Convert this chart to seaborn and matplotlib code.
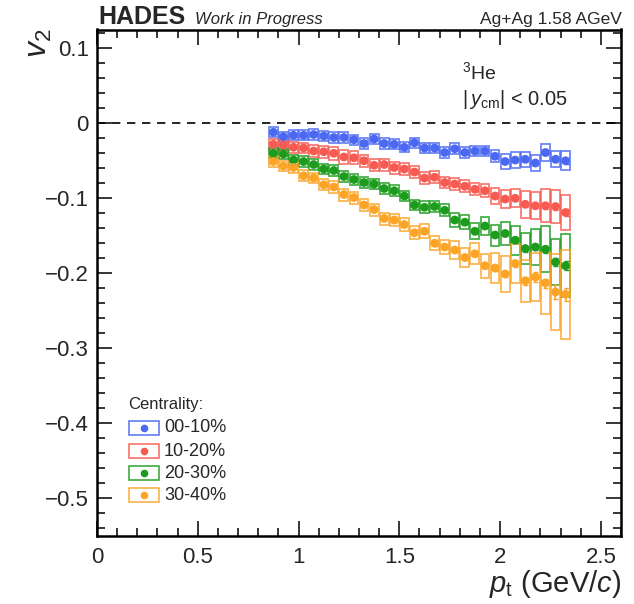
import numpy as np
import pandas as pd
import matplotlib
matplotlib.use("Agg")
import matplotlib.pyplot as plt
import seaborn as sns
from matplotlib.patches import Rectangle
from matplotlib.ticker import MultipleLocator

# ---------------- data ----------------
pt = [0.875, 0.925, 0.975, 1.025, 1.075, 1.125, 1.175, 1.225, 1.275, 1.325,
      1.375, 1.425, 1.475, 1.525, 1.575, 1.625, 1.675, 1.725, 1.775, 1.825,
      1.875, 1.925, 1.975, 2.025, 2.075, 2.125, 2.175, 2.225, 2.275, 2.325]

centralities = ["00-10%", "10-20%", "20-30%", "30-40%"]

v2_00_10 = [-0.012, -0.018, -0.016, -0.016, -0.015, -0.017, -0.019, -0.019, -0.022, -0.027,
            -0.021, -0.027, -0.028, -0.032, -0.026, -0.033, -0.033, -0.039, -0.034, -0.039,
            -0.037, -0.037, -0.044, -0.051, -0.049, -0.048, -0.053, -0.039, -0.048, -0.050]
v2_10_20 = [-0.028, -0.029, -0.032, -0.033, -0.037, -0.038, -0.040, -0.045, -0.046, -0.050,
            -0.056, -0.055, -0.059, -0.061, -0.065, -0.073, -0.072, -0.079, -0.081, -0.084,
            -0.088, -0.090, -0.097, -0.101, -0.100, -0.108, -0.110, -0.110, -0.111, -0.119]
v2_20_30 = [-0.040, -0.041, -0.049, -0.051, -0.055, -0.061, -0.063, -0.071, -0.075, -0.079,
            -0.081, -0.087, -0.090, -0.097, -0.109, -0.112, -0.111, -0.116, -0.129, -0.132,
            -0.144, -0.137, -0.149, -0.147, -0.156, -0.167, -0.165, -0.168, -0.185, -0.190]
v2_30_40 = [-0.051, -0.057, -0.059, -0.070, -0.073, -0.082, -0.085, -0.095, -0.099, -0.109,
            -0.115, -0.127, -0.129, -0.135, -0.146, -0.144, -0.160, -0.165, -0.169, -0.179,
            -0.174, -0.190, -0.193, -0.201, -0.187, -0.210, -0.205, -0.213, -0.225, -0.228]

# systematic uncertainties (half heights of the boxes)
sys_00_10 = [0.0067, 0.0067, 0.0067, 0.0067, 0.0067, 0.0067, 0.0067, 0.0067, 0.0067, 0.0067,
             0.0067, 0.0067, 0.0067, 0.0067, 0.0067, 0.0067, 0.0067, 0.0067, 0.0071, 0.0073,
             0.0073, 0.0073, 0.0082, 0.0105, 0.0107, 0.0100, 0.0113, 0.0113, 0.0105, 0.0127]
sys_10_20 = [0.0073, 0.0073, 0.0073, 0.0073, 0.0080, 0.0080, 0.0087, 0.0093, 0.0087, 0.0080,
             0.0080, 0.0080, 0.0080, 0.0080, 0.0080, 0.0080, 0.0082, 0.0078, 0.0082, 0.0082,
             0.0082, 0.0089, 0.0109, 0.0118, 0.0122, 0.0180, 0.0178, 0.0220, 0.0220, 0.0238]
sys_20_30 = [0.0067, 0.0067, 0.0067, 0.0067, 0.0067, 0.0067, 0.0073, 0.0073, 0.0073, 0.0073,
             0.0073, 0.0073, 0.0073, 0.0073, 0.0073, 0.0080, 0.0078, 0.0080, 0.0089, 0.0093,
             0.0107, 0.0115, 0.0140, 0.0155, 0.0193, 0.0209, 0.0245, 0.0307, 0.0311, 0.0422]
sys_30_40 = [0.0073, 0.0073, 0.0073, 0.0073, 0.0073, 0.0073, 0.0080, 0.0080, 0.0080, 0.0080,
             0.0080, 0.0080, 0.0080, 0.0087, 0.0087, 0.0093, 0.0093, 0.0089, 0.0122, 0.0127,
             0.0138, 0.0160, 0.0195, 0.0238, 0.0258, 0.0278, 0.0322, 0.0409, 0.0507, 0.0595]

# statistical uncertainties
stat_00_10 = [0.001, 0.001, 0.001, 0.001, 0.001, 0.001, 0.001, 0.001, 0.001, 0.001,
              0.001, 0.001, 0.001, 0.001, 0.001, 0.002, 0.002, 0.002, 0.002, 0.002,
              0.002, 0.002, 0.002, 0.002, 0.003, 0.003, 0.003, 0.003, 0.004, 0.004]
stat_10_20 = [0.001, 0.001, 0.001, 0.001, 0.001, 0.001, 0.001, 0.001, 0.001, 0.001,
              0.001, 0.001, 0.001, 0.001, 0.002, 0.002, 0.002, 0.002, 0.002, 0.002,
              0.002, 0.002, 0.002, 0.003, 0.003, 0.003, 0.003, 0.004, 0.004, 0.005]
stat_20_30 = [0.001, 0.001, 0.001, 0.001, 0.001, 0.001, 0.001, 0.001, 0.001, 0.001,
              0.001, 0.001, 0.002, 0.002, 0.002, 0.002, 0.002, 0.002, 0.002, 0.002,
              0.003, 0.003, 0.003, 0.003, 0.004, 0.004, 0.004, 0.005, 0.005, 0.006]
stat_30_40 = [0.001, 0.001, 0.001, 0.001, 0.001, 0.001, 0.001, 0.001, 0.002, 0.002,
              0.002, 0.002, 0.002, 0.002, 0.002, 0.002, 0.003, 0.003, 0.003, 0.003,
              0.003, 0.003, 0.004, 0.004, 0.004, 0.005, 0.007, 0.006, 0.009, 0.009]

colors = ["#4a68f2", "#f65a50", "#1c9b1c", "#fca426"]

v2_all = [v2_00_10, v2_10_20, v2_20_30, v2_30_40]
sys_all = [sys_00_10, sys_10_20, sys_20_30, sys_30_40]
stat_all = [stat_00_10, stat_10_20, stat_20_30, stat_30_40]

frames = []
for c, v, s, e in zip(centralities, v2_all, sys_all, stat_all):
    frames.append(pd.DataFrame({"pt": pt, "v2": v, "sys": s, "stat": e, "centrality": c}))
df = pd.concat(frames, ignore_index=True)

# ---------------- style ----------------
sns.set_style("ticks")
plt.rcParams["font.family"] = ["Liberation Sans", "DejaVu Sans"]
plt.rcParams["mathtext.fontset"] = "custom"
plt.rcParams["mathtext.rm"] = "Liberation Sans"
plt.rcParams["mathtext.it"] = "Liberation Sans:italic"
plt.rcParams["mathtext.bf"] = "Liberation Sans:bold"

W, H = 634, 604
fig = plt.figure(figsize=(W / 100, H / 100), dpi=100)
ax_l, ax_r, ax_t, ax_b = 97, 621, 29.5, 535.8
ax = fig.add_axes([ax_l / W, 1 - ax_b / H, (ax_r - ax_l) / W, (ax_b - ax_t) / H])

palette = dict(zip(centralities, colors))
half_w = 0.022

# systematic boxes and statistical bars
for c in centralities:
    sub = df[df["centrality"] == c]
    for x, y, s in zip(sub["pt"], sub["v2"], sub["sys"]):
        ax.add_patch(Rectangle((x - half_w, y - s), 2 * half_w, 2 * s,
                               fill=False, edgecolor=palette[c], lw=1.3,
                               alpha=0.8, zorder=2))
    ax.errorbar(sub["pt"], sub["v2"], yerr=sub["stat"], fmt="none",
                ecolor=palette[c], elinewidth=1.2, capsize=1.8, capthick=1.0, zorder=3)

sns.scatterplot(data=df, x="pt", y="v2", hue="centrality", palette=palette,
                s=40, linewidth=0, legend=False, ax=ax, zorder=4)

ax.axhline(0, color="black", lw=1.2, ls=(0, (5, 4)), zorder=1)

ax.set_xlim(0, 2.6)
ax.set_ylim(-0.55, 0.125)
ax.xaxis.set_minor_locator(MultipleLocator(0.1))
ax.yaxis.set_minor_locator(MultipleLocator(0.02))
ax.set_xticks([0, 0.5, 1, 1.5, 2, 2.5])
ax.set_xticklabels(["0", "0.5", "1", "1.5", "2", "2.5"])
yt = [0.1, 0, -0.1, -0.2, -0.3, -0.4, -0.5]
ax.set_yticks(yt)
ax.set_yticklabels(["0.1", "0", "\u22120.1", "\u22120.2", "\u22120.3", "\u22120.4", "\u22120.5"])

ax.tick_params(axis="both", which="both", direction="in", top=True, right=True,
               labelsize=16, width=1.1, color="black")
ax.tick_params(axis="both", which="major", length=11)
ax.tick_params(axis="both", which="minor", length=6)
ax.tick_params(axis="x", which="major", pad=8)
ax.tick_params(axis="y", which="major", pad=6)
for sp in ax.spines.values():
    sp.set_linewidth(1.8)
    sp.set_color("black")

ax.set_xlabel("")
ax.set_ylabel("")

# axis titles
fig.text(ax_r / W, 1 - 592 / H, r"$p_{\mathrm{t}}$ (GeV/$c$)", ha="right", va="baseline", fontsize=21)
fig.text(39 / W, 1 - 43 / H, r"$v_{2}$", ha="center", va="center", rotation=90, fontsize=23)

# header
fig.text(98 / W, 1 - 24 / H, "HADES", ha="left", va="baseline", fontsize=18, fontweight="bold")
fig.text(195 / W, 1 - 24 / H, "Work in Progress", ha="left", va="baseline", fontsize=12, style="italic")
fig.text(622 / W, 1 - 24 / H, "Ag+Ag 1.58 AGeV", ha="right", va="baseline", fontsize=12.5)

# particle / rapidity labels
def axpos(px, py):
    return (px - ax_l) / (ax_r - ax_l), (ax_b - py) / (ax_b - ax_t)

ax.text(*axpos(462, 79), r"$^{3}$He", transform=ax.transAxes, ha="left", va="baseline", fontsize=14)
ax.text(*axpos(462, 105), r"|$\,y_{\mathrm{cm}}$| < 0.05", transform=ax.transAxes,
        ha="left", va="baseline", fontsize=14.5)

# legend (drawn manually)
ax.text(*axpos(128, 405), "Centrality:", transform=ax.transAxes, ha="left", va="center", fontsize=12)
entry_y = [428, 451, 473, 495]
for c, py in zip(centralities, entry_y):
    x0, y0 = axpos(129, py + 7)
    x1, y1 = axpos(159, py - 7)
    ax.add_patch(Rectangle((x0, y0), x1 - x0, y1 - y0, transform=ax.transAxes,
                           fill=False, edgecolor=palette[c], lw=1.2, alpha=0.85, zorder=5))
    xm, ym = axpos(144, py)
    ax.scatter([xm], [ym], transform=ax.transAxes, s=30, color=palette[c], linewidth=0, zorder=6)
    ax.text(*axpos(164, py), c, transform=ax.transAxes, ha="left", va="center", fontsize=13)

fig.savefig("out.png", dpi=100)
